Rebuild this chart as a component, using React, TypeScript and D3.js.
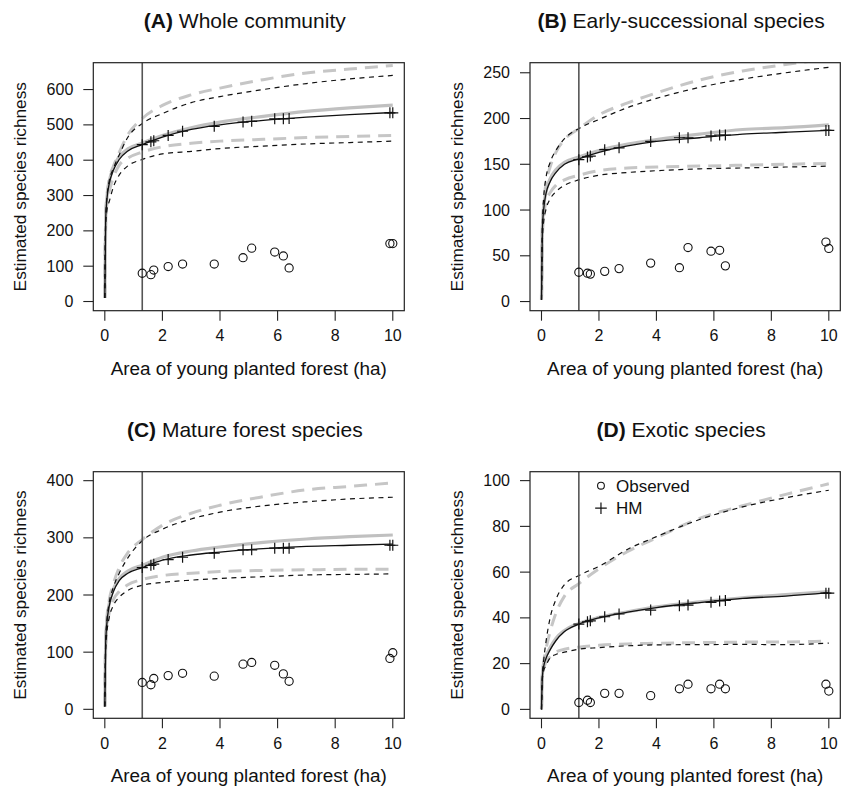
import React from 'react';
import * as d3 from 'd3';

// x positions (ha) at which the fitted curves were read
const xGrid = [0, 0.03, 0.08, 0.15, 0.3, 0.5, 0.8, 1.3, 2, 3, 4, 5.5, 7, 8.5, 10];
// area of young planted forest at each site
const siteArea = [1.3, 1.6, 1.7, 2.2, 2.7, 3.8, 4.8, 5.1, 5.9, 6.2, 6.4, 9.9, 10];
const xTicks = [0, 2, 4, 6, 8, 10];

// (A) Whole community
const aYTicks = [0, 100, 200, 300, 400, 500, 600];
const aObserved = [80, 76, 89, 99, 106, 106, 124, 151, 140, 129, 95, 164, 164];
const aHM = [444, 452, 455, 470, 482, 496, 508, 510, 517, 517, 518, 534, 534];
const aHmMean = [10, 230, 295, 332, 372, 402, 426, 444, 465, 487, 500, 513, 522, 529, 535];
const aHmUpper = [10, 238, 300, 340, 377, 415, 465, 504, 532, 563, 580, 600, 617, 630, 640];
const aHmLower = [10, 220, 262, 282, 325, 358, 384, 402, 418, 425, 433, 440, 446, 450, 454];
const aAltMean = [10, 235, 300, 338, 380, 410, 432, 449, 470, 492, 508, 524, 538, 548, 556];
const aAltUpper = [10, 242, 305, 345, 383, 422, 472, 518, 555, 585, 604, 628, 647, 658, 668];
const aAltLower = [10, 228, 280, 310, 352, 386, 406, 423, 438, 448, 454, 459, 464, 467, 470];

// (B) Early-successional species
const bYTicks = [0, 50, 100, 150, 200, 250];
const bObserved = [32, 31, 30, 33, 36, 42, 37, 59, 55, 56, 39, 65, 58];
const bHM = [155, 158, 159, 166, 168, 175, 179, 179, 181, 182, 182, 187, 187];
const bHmMean = [2, 78, 102, 117, 131, 141, 150, 156, 163, 170, 175, 179, 183, 185, 187];
const bHmUpper = [2, 84, 115, 134, 152, 165, 178, 189, 199, 212, 222, 234, 243, 250, 256];
const bHmLower = [2, 66, 88, 100, 112, 120, 127, 133, 138, 141, 143, 145, 146, 147, 148];
const bAltMean = [2, 80, 104, 119, 134, 144, 152, 158, 165, 172, 177, 183, 188, 190, 193];
const bAltUpper = [2, 80, 108, 128, 147, 163, 177, 189, 204, 217, 228, 242, 252, 259, 265];
const bAltLower = [2, 70, 94, 108, 119, 127, 133, 138, 143, 146, 147, 148, 149, 150, 151];

// (C) Mature forest species
const cYTicks = [0, 100, 200, 300, 400];
const cObserved = [47, 43, 54, 59, 63, 58, 79, 82, 77, 62, 49, 89, 99];
const cHM = [248, 252, 254, 262, 266, 273, 279, 279, 282, 282, 282, 287, 287];
const cHmMean = [5, 115, 155, 180, 206, 225, 238, 248, 261, 270, 275, 281, 285, 287, 289];
const cHmUpper = [5, 120, 160, 186, 214, 238, 265, 295, 315, 333, 345, 356, 363, 368, 371];
const cHmLower = [5, 105, 138, 160, 182, 196, 208, 217, 222, 226, 229, 232, 235, 236, 237];
const cAltMean = [5, 118, 158, 184, 211, 229, 242, 252, 266, 277, 284, 292, 298, 302, 305];
const cAltUpper = [5, 124, 165, 190, 220, 248, 274, 297, 322, 343, 357, 372, 384, 390, 396];
const cAltLower = [5, 110, 145, 168, 192, 206, 218, 227, 234, 238, 241, 243, 244, 245, 245];

// (D) Exotic species
const dYTicks = [0, 20, 40, 60, 80, 100];
const dObserved = [3, 4, 3, 7, 7, 6, 9, 11, 9, 11, 9, 11, 8];
const dHM = [37.3, 38.3, 38.7, 40.5, 41.7, 43.4, 45.3, 45.6, 46.8, 47.4, 47.6, 50.8, 50.8];
const dHmMean = [0, 14, 19, 22, 26, 30, 34, 37.3, 40, 42.5, 44.5, 46.7, 48.5, 49.5, 51];
const dHmUpper = [0, 15, 22, 29, 40, 48, 54.5, 58.5, 62.5, 70, 75.5, 83, 88.5, 92.5, 95.8];
const dHmLower = [0, 13, 17, 19, 22.5, 24, 25, 26.3, 27, 27.8, 28.2, 28.3, 28.4, 28.3, 29];
const dAltMean = [0, 15, 20, 23, 27, 31, 34.5, 37.6, 40.2, 42.7, 44.8, 47, 48.8, 50.2, 51.5];
const dAltUpper = [0, 15, 21, 26, 34, 42, 49.5, 55, 61.5, 69, 75, 83.5, 89, 94, 98.6];
const dAltLower = [0, 14, 18, 20.5, 23, 25, 26.3, 27.2, 28, 28.6, 28.9, 29.2, 29.4, 29.5, 29.8];

const cutoffArea = 1.3;
const xDomain = [-0.4, 10.4];

const panels = [
  { id: 'A', letter: '(A)', name: ' Whole community', yDomain: [-26, 676], yTicks: aYTicks, observed: aObserved, hm: aHM,
    hmMean: aHmMean, hmUpper: aHmUpper, hmLower: aHmLower, altMean: aAltMean, altUpper: aAltUpper, altLower: aAltLower,
    box: { l: 93.3, r: 404.3, t: 62.7, b: 310.7 }, legend: false },
  { id: 'B', letter: '(B)', name: ' Early-successional species', yDomain: [-10, 261], yTicks: bYTicks, observed: bObserved, hm: bHM,
    hmMean: bHmMean, hmUpper: bHmUpper, hmLower: bHmLower, altMean: bAltMean, altUpper: bAltUpper, altLower: bAltLower,
    box: { l: 530, r: 840.3, t: 62.7, b: 310.7 }, legend: false },
  { id: 'C', letter: '(C)', name: ' Mature forest species', yDomain: [-15.7, 415.7], yTicks: cYTicks, observed: cObserved, hm: cHM,
    hmMean: cHmMean, hmUpper: cHmUpper, hmLower: cHmLower, altMean: cAltMean, altUpper: cAltUpper, altLower: cAltLower,
    box: { l: 93.3, r: 404.3, t: 471.7, b: 718.3 }, legend: false },
  { id: 'D', letter: '(D)', name: ' Exotic species', yDomain: [-3.9, 103.9], yTicks: dYTicks, observed: dObserved, hm: dHM,
    hmMean: dHmMean, hmUpper: dHmUpper, hmLower: dHmLower, altMean: dAltMean, altUpper: dAltUpper, altLower: dAltLower,
    box: { l: 530, r: 840.3, t: 471.7, b: 718.3 }, legend: true },
];

const FONT = '"Liberation Sans", Arial, Helvetica, sans-serif';

function Panel({ p }: { p: any }) {
  const { box } = p;
  const x = d3.scaleLinear().domain(xDomain).range([box.l, box.r]);
  const y = d3.scaleLinear().domain(p.yDomain).range([box.b, box.t]);
  const line = d3
    .line<number>()
    .x((_, i) => x(xGrid[i]))
    .y((d) => y(d))
    .curve(d3.curveMonotoneX);
  const clipId = `clip-${p.id}`;
  const cx = (box.l + box.r) / 2;
  const cy = (box.t + box.b) / 2;
  const plus = (px: number, py: number, s: number) => `M${px - s},${py}h${2 * s}M${px},${py - s}v${2 * s}`;
  return (
    <g fontFamily={FONT}>
      <defs>
        <clipPath id={clipId}>
          <rect x={box.l} y={box.t} width={box.r - box.l} height={box.b - box.t} />
        </clipPath>
      </defs>
      <text x={cx - 4} y={box.t - 43} textAnchor="middle" dominantBaseline="central" fontSize={21} fill="#111">
        <tspan fontWeight="bold">{p.letter}</tspan>
        <tspan>{p.name}</tspan>
      </text>
      <g clipPath={`url(#${clipId})`}>
        <path d={line(p.altUpper) || ''} fill="none" stroke="#c6c6c6" strokeWidth={3} strokeDasharray="13,8" />
        <path d={line(p.altLower) || ''} fill="none" stroke="#c6c6c6" strokeWidth={3} strokeDasharray="13,8" />
        <path d={line(p.altMean) || ''} fill="none" stroke="#c0c0c0" strokeWidth={3.2} />
        <path d={line(p.hmUpper) || ''} fill="none" stroke="#111" strokeWidth={1.2} strokeDasharray="5,4.5" />
        <path d={line(p.hmLower) || ''} fill="none" stroke="#111" strokeWidth={1.2} strokeDasharray="5,4.5" />
        <path d={line(p.hmMean) || ''} fill="none" stroke="#111" strokeWidth={1.3} />
        <line x1={x(cutoffArea)} x2={x(cutoffArea)} y1={box.t} y2={box.b} stroke="#555" strokeWidth={1.6} />
        {siteArea.map((a, i) => (
          <circle key={`o${i}`} cx={x(a)} cy={y(p.observed[i])} r={4.1} fill="none" stroke="#111" strokeWidth={1.1} />
        ))}
        {siteArea.map((a, i) => (
          <path key={`h${i}`} d={plus(x(a), y(p.hm[i]), 5.5)} stroke="#111" strokeWidth={1.2} fill="none" />
        ))}
      </g>
      <rect x={box.l} y={box.t} width={box.r - box.l} height={box.b - box.t} fill="none" stroke="#222" strokeWidth={1.2} />
      {p.yTicks.map((t: number) => (
        <g key={`y${t}`}>
          <line x1={box.l - 10} x2={box.l} y1={y(t)} y2={y(t)} stroke="#222" strokeWidth={1.1} />
          <text x={box.l - 20} y={y(t)} textAnchor="end" dominantBaseline="central" fontSize={16} fill="#111">
            {t}
          </text>
        </g>
      ))}
      {xTicks.map((t) => (
        <g key={`x${t}`}>
          <line x1={x(t)} x2={x(t)} y1={box.b} y2={box.b + 10} stroke="#222" strokeWidth={1.1} />
          <text x={x(t)} y={box.b + 25} textAnchor="middle" dominantBaseline="central" fontSize={16} fill="#111">
            {t}
          </text>
        </g>
      ))}
      <text x={cx} y={box.b + 57.5} textAnchor="middle" dominantBaseline="central" fontSize={18.9} fill="#111">
        Area of young planted forest (ha)
      </text>
      <text
        transform={`translate(${box.l - 73},${cy}) rotate(-90)`}
        textAnchor="middle"
        dominantBaseline="central"
        fontSize={17.3}
        fill="#111"
      >
        Estimated species richness
      </text>
      {p.legend && (
        <g>
          <circle cx={x(2.07)} cy={box.t + 14} r={3.4} fill="none" stroke="#111" strokeWidth={1.1} />
          <text x={x(2.07) + 15} y={box.t + 15} dominantBaseline="central" fontSize={17} fill="#111">
            Observed
          </text>
          <path d={plus(x(2.07), box.t + 36.5, 5.8)} stroke="#111" strokeWidth={1.2} fill="none" />
          <text x={x(2.07) + 15} y={box.t + 37} dominantBaseline="central" fontSize={17} fill="#111">
            HM
          </text>
        </g>
      )}
    </g>
  );
}

export default function App() {
  return (
    <svg
      width={842}
      height={788}
      viewBox="0 0 842 788"
      style={{ position: 'absolute', left: 0, top: 0, background: '#fff' }}
    >
      <rect x={0} y={0} width={842} height={788} fill="#fff" />
      {panels.map((p) => (
        <Panel key={p.id} p={p} />
      ))}
    </svg>
  );
}
